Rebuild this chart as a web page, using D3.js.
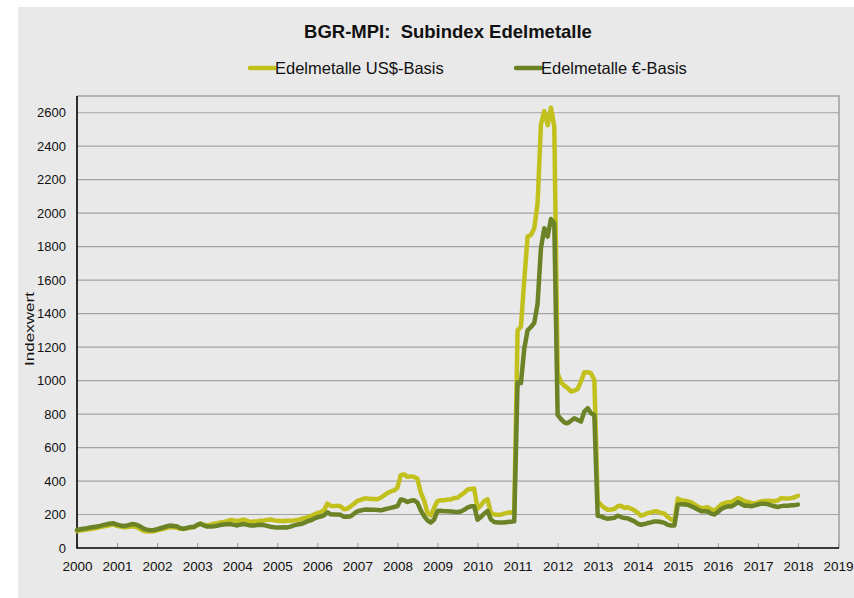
<!DOCTYPE html>
<html>
<head>
<meta charset="utf-8">
<script src="https://cdn.jsdelivr.net/npm/d3@7"></script>
<style>
  body { margin: 0; background: #fff; }
  svg { font-family: "Liberation Sans", Arial, sans-serif; }
</style>
</head>
<body>
<svg id="chart" width="854" height="598"></svg>
<script>
// monthly index values, Jan 2000 .. Jan 2018 (one row per year)
const usdValues = [
  102, 105, 108, 110, 113, 116, 120, 125, 130, 133, 137, 140,
  132, 128, 124, 126, 128, 130, 124, 112, 102, 99, 98, 100,
  105, 110, 115, 120, 125, 124, 120, 115, 114, 118, 122, 125,
  135, 145, 140, 135, 140, 145, 148, 152, 155, 160, 168, 165,
  160, 165, 170, 162, 155, 158, 160, 163, 165, 168, 170, 165,
  163, 161, 162, 163, 163, 165, 168, 172, 178, 183, 190, 200,
  208, 215, 225, 265, 252, 250, 253, 248, 232, 235, 249, 265,
  281, 287, 295, 296, 293, 292, 291, 300, 315, 328, 338, 344,
  360, 435, 440, 425, 428, 425, 414, 330, 285, 210, 195, 240,
  280, 285, 285, 289, 290, 298, 300, 315, 330, 349, 352, 355,
  235, 255, 280, 291, 210, 200, 199, 199, 205, 210, 213, 209,
  1300, 1322, 1600, 1860, 1870, 1910, 2060, 2530, 2610, 2525, 2630, 2515,
  1044, 990, 970, 955, 935, 940, 950, 995, 1050, 1050, 1044, 1004,
  279, 258, 240, 229, 230, 233, 250, 252, 239, 243, 235, 225,
  210, 193, 200, 209, 213, 219, 218, 209, 205, 185, 170, 163,
  295, 285, 282, 279, 272, 260, 248, 239, 240, 243, 230, 223,
  240, 259, 268, 273, 275, 285, 298, 290, 279, 275, 269, 265,
  272, 279, 281, 283, 281, 279, 285, 298, 296, 295, 298, 303,
  312
];

const eurValues = [
  108, 112, 115, 118, 122, 125, 128, 132, 138, 142, 146, 148,
  140, 135, 132, 135, 140, 143, 138, 128, 115, 110, 106, 108,
  112, 118, 124, 130, 135, 132, 128, 118, 115, 120, 125, 125,
  138, 145, 135, 128, 128, 130, 133, 138, 140, 142, 143, 138,
  135, 140, 143, 138, 135, 134, 137, 139, 137, 132, 127, 124,
  122, 123, 124, 123, 128, 135, 140, 143, 150, 160, 165, 175,
  183, 188, 195, 213, 202, 200, 200, 198, 186, 187, 190, 205,
  219, 224, 229, 230, 229, 229, 227, 225, 230, 235, 240, 245,
  250, 290, 285, 275, 282, 285, 271, 225, 190, 165, 152, 170,
  221, 222, 220, 219, 218, 216, 215, 218, 228, 241, 249, 249,
  169, 185, 205, 221, 170, 155, 152, 152, 152, 155, 157, 159,
  990, 985, 1190, 1300, 1320, 1345, 1460, 1790, 1910, 1860, 1965, 1940,
  795, 770, 750, 745, 760, 775, 765, 755, 815, 835, 805, 795,
  193, 189, 180, 175, 178, 180, 193, 185, 179, 177, 168, 159,
  145, 139, 143, 149, 153, 159, 158, 155, 150, 138, 135, 135,
  259, 262, 260, 258, 250, 240, 230, 220, 219, 218, 205, 200,
  215, 233, 242, 249, 248, 258, 273, 263, 253, 252, 249, 255,
  260, 265, 264, 262, 255, 249, 245, 250, 253, 252, 255, 256,
  259
];

const startYear = 2000;
const xTicks = d3.range(2000, 2020);
const yTicks = d3.range(0, 2601, 200);
const seriesNames = ["Edelmetalle US$-Basis", "Edelmetalle €-Basis"];
const colors = ["#c2c01c", "#6b8226"];

const svg = d3.select("#chart");

// grey panel behind everything
svg.append("rect")
  .attr("x", 18).attr("y", 7)
  .attr("width", 836).attr("height", 591)
  .attr("fill", "#e9e9e9");

const plotLeft = 77, plotRight = 839, plotTop = 96, plotBottom = 548;

const x = d3.scaleLinear().domain([2000, 2019]).range([plotLeft, plotRight - 1]);
const y = d3.scaleLinear().domain([0, 2700]).range([plotBottom, plotTop]);

// gridlines
svg.append("g")
  .selectAll("line")
  .data(yTicks.filter(d => d > 0))
  .join("line")
  .attr("x1", plotLeft).attr("x2", plotRight)
  .attr("y1", d => y(d)).attr("y2", d => y(d))
  .attr("stroke", "#a3a3a3")
  .attr("stroke-width", 1.2);

// top + right frame
svg.append("path")
  .attr("d", `M${plotLeft},${plotTop}H${plotRight}V${plotBottom}`)
  .attr("fill", "none")
  .attr("stroke", "#a3a3a3")
  .attr("stroke-width", 1.6);

// y axis labels
const yAxis = svg.append("g")
  .attr("transform", `translate(${plotLeft},0)`)
  .call(d3.axisLeft(y).tickValues(yTicks).tickFormat(d3.format("d")).tickSize(0).tickPadding(11));
yAxis.select(".domain").remove();
yAxis.selectAll("text")
  .attr("font-size", "13px")
  .attr("font-family", "Liberation Sans, Arial, sans-serif")
  .attr("fill", "#111");

// x axis, ticks pointing up into the plot
const xAxis = svg.append("g")
  .attr("transform", `translate(0,${plotBottom})`)
  .call(d3.axisBottom(x).tickValues(xTicks).tickFormat(d3.format("d")).tickSize(-5).tickPadding(13));
xAxis.select(".domain").remove();
xAxis.selectAll(".tick line").attr("stroke", "#999");
xAxis.selectAll("text")
  .attr("font-size", "13.5px")
  .attr("font-family", "Liberation Sans, Arial, sans-serif")
  .attr("fill", "#111");

// black axis lines
svg.append("path")
  .attr("d", `M${plotLeft},${plotTop}V${plotBottom}H${plotRight}`)
  .attr("fill", "none")
  .attr("stroke", "#000")
  .attr("stroke-width", 1.6);

// lines
const line = d3.line()
  .x((d, i) => x(startYear + i / 12))
  .y(d => y(d));

[usdValues, eurValues].forEach((vals, k) => {
  svg.append("path")
    .datum(vals)
    .attr("d", line)
    .attr("fill", "none")
    .attr("stroke", colors[k])
    .attr("stroke-width", 4.5)
    .attr("stroke-linejoin", "round")
    .attr("stroke-linecap", "round");
});

// title (keeps the double space)
svg.append("text")
  .attr("x", 448).attr("y", 38)
  .attr("text-anchor", "middle")
  .attr("font-size", "18.5px")
  .attr("font-weight", "bold")
  .attr("fill", "#111")
  .style("white-space", "pre")
  .text("BGR-MPI:  Subindex Edelmetalle");

// legend
const legendX = [250, 516];
seriesNames.forEach((name, k) => {
  const g = svg.append("g").attr("transform", `translate(${legendX[k]},68)`);
  g.append("line")
    .attr("x1", 0).attr("x2", 25)
    .attr("stroke", colors[k])
    .attr("stroke-width", 4.5)
    .attr("stroke-linecap", "round");
  g.append("text")
    .attr("x", 25).attr("y", 6)
    .attr("font-size", "16.5px")
    .attr("fill", "#111")
    .text(name);
});

// y axis title
svg.append("text")
  .attr("transform", "translate(34,329) rotate(-90)")
  .attr("text-anchor", "middle")
  .attr("font-size", "12px")
  .attr("textLength", 74)
  .attr("lengthAdjust", "spacingAndGlyphs")
  .attr("fill", "#111")
  .text("Indexwert");
</script>
</body>
</html>
